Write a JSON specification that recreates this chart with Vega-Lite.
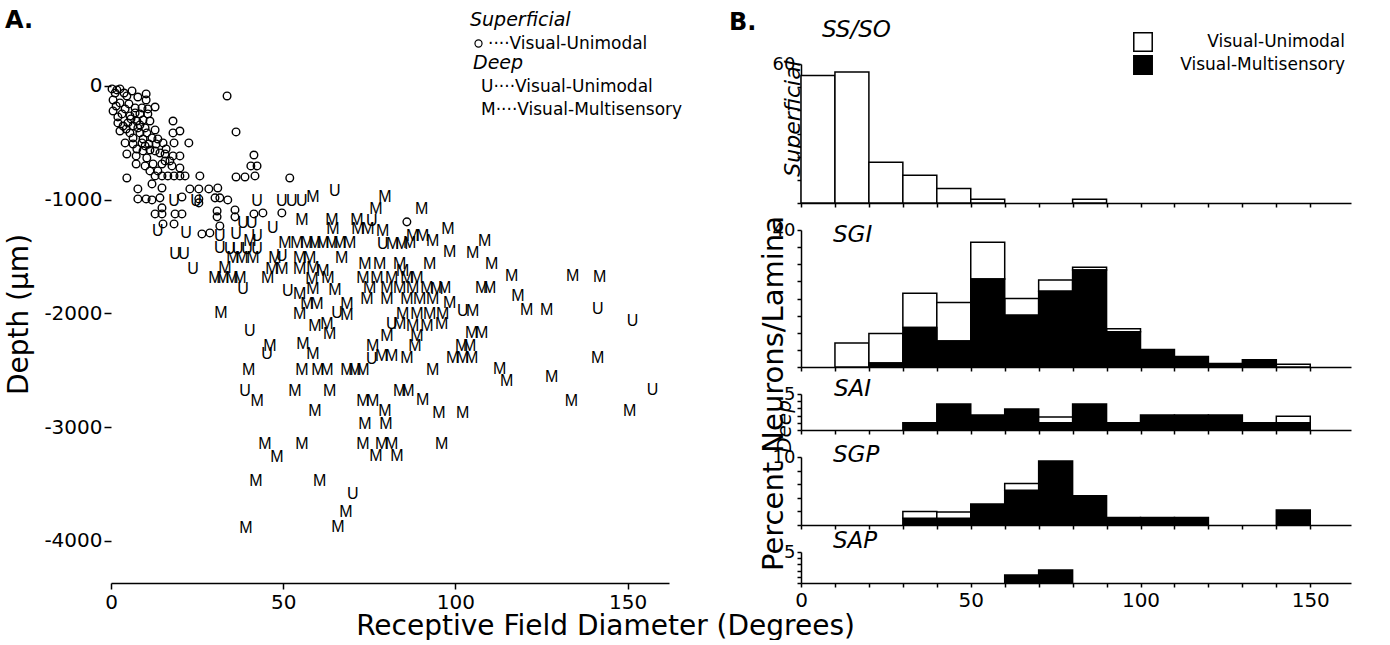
{
 "$schema": "https://vega.github.io/schema/vega-lite/v6.json",
 "background": "white",
 "padding": {"left": 5, "top": 9, "right": 5, "bottom": 0},
 "title": {"text": "A.", "anchor": "start", "frame": "bounds", "fontSize": 24, "fontWeight": "bold", "font": "DejaVu Sans", "offset": -22},
 "spacing": 132,
 "bounds": "flush",
 "resolve": {"scale": {"color": "independent"}, "legend": {"color": "independent"}},
 "datasets": {
  "scatter": [
   {"rf":1.2,"depth":-62,"cls":"o"},{"rf":1.7,"depth":-35,"cls":"o"},{"rf":4.6,"depth":-88,"cls":"o"},{"rf":7.8,"depth":-97,"cls":"o"},{"rf":10.2,"depth":-70,"cls":"o"},{"rf":10.2,"depth":-123,"cls":"o"},{"rf":12.8,"depth":-185,"cls":"o"},
   {"rf":0.6,"depth":-123,"cls":"o"},{"rf":2.6,"depth":-149,"cls":"o"},{"rf":5.2,"depth":-158,"cls":"o"},{"rf":7.0,"depth":-193,"cls":"o"},{"rf":9.0,"depth":-193,"cls":"o"},{"rf":10.7,"depth":-202,"cls":"o"},
   {"rf":0.6,"depth":-220,"cls":"o"},{"rf":3.2,"depth":-246,"cls":"o"},{"rf":5.5,"depth":-264,"cls":"o"},{"rf":8.4,"depth":-246,"cls":"o"},{"rf":10.7,"depth":-246,"cls":"o"},
   {"rf":2.0,"depth":-325,"cls":"o"},{"rf":4.9,"depth":-325,"cls":"o"},{"rf":7.5,"depth":-308,"cls":"o"},{"rf":9.3,"depth":-299,"cls":"o"},{"rf":11.3,"depth":-308,"cls":"o"},{"rf":4.4,"depth":-378,"cls":"o"},{"rf":7.8,"depth":-369,"cls":"o"},{"rf":9.9,"depth":-369,"cls":"o"},{"rf":18.0,"depth":-308,"cls":"o"},
   {"rf":2.6,"depth":-396,"cls":"o"},{"rf":5.5,"depth":-413,"cls":"o"},{"rf":8.4,"depth":-413,"cls":"o"},{"rf":10.4,"depth":-413,"cls":"o"},{"rf":12.8,"depth":-387,"cls":"o"},{"rf":18.0,"depth":-413,"cls":"o"},{"rf":20.0,"depth":-396,"cls":"o"},{"rf":6.4,"depth":-457,"cls":"o"},{"rf":9.3,"depth":-466,"cls":"o"},{"rf":11.9,"depth":-457,"cls":"o"},
   {"rf":4.1,"depth":-501,"cls":"o"},{"rf":6.4,"depth":-510,"cls":"o"},{"rf":9.0,"depth":-501,"cls":"o"},{"rf":11.0,"depth":-510,"cls":"o"},{"rf":13.1,"depth":-510,"cls":"o"},{"rf":15.1,"depth":-501,"cls":"o"},{"rf":18.3,"depth":-501,"cls":"o"},{"rf":22.6,"depth":-501,"cls":"o"},{"rf":7.5,"depth":-554,"cls":"o"},
   {"rf":4.6,"depth":-598,"cls":"o"},{"rf":7.3,"depth":-615,"cls":"o"},{"rf":9.3,"depth":-571,"cls":"o"},{"rf":11.3,"depth":-563,"cls":"o"},{"rf":14.2,"depth":-589,"cls":"o"},{"rf":15.7,"depth":-598,"cls":"o"},{"rf":18.0,"depth":-615,"cls":"o"},{"rf":20.0,"depth":-615,"cls":"o"},{"rf":10.4,"depth":-633,"cls":"o"},
   {"rf":7.3,"depth":-686,"cls":"o"},{"rf":9.9,"depth":-703,"cls":"o"},{"rf":12.2,"depth":-686,"cls":"o"},{"rf":14.8,"depth":-686,"cls":"o"},{"rf":17.7,"depth":-703,"cls":"o"},{"rf":20.0,"depth":-721,"cls":"o"},{"rf":15.7,"depth":-659,"cls":"o"},
   {"rf":0.3,"depth":-26,"cls":"o"},{"rf":2.6,"depth":-26,"cls":"o"},{"rf":3.8,"depth":-62,"cls":"o"},{"rf":6.1,"depth":-44,"cls":"o"},{"rf":1.5,"depth":-176,"cls":"o"},{"rf":4.1,"depth":-202,"cls":"o"},{"rf":2.0,"depth":-272,"cls":"o"},{"rf":7.0,"depth":-237,"cls":"o"},{"rf":3.5,"depth":-352,"cls":"o"},{"rf":6.4,"depth":-352,"cls":"o"},{"rf":8.4,"depth":-343,"cls":"o"},{"rf":5.8,"depth":-290,"cls":"o"},{"rf":9.9,"depth":-527,"cls":"o"},{"rf":12.8,"depth":-571,"cls":"o"},{"rf":13.6,"depth":-466,"cls":"o"},{"rf":16.0,"depth":-554,"cls":"o"},{"rf":17.1,"depth":-659,"cls":"o"},{"rf":11.3,"depth":-747,"cls":"o"},{"rf":13.6,"depth":-747,"cls":"o"},
   {"rf":4.6,"depth":-809,"cls":"o"},{"rf":12.8,"depth":-791,"cls":"o"},{"rf":14.8,"depth":-791,"cls":"o"},{"rf":16.5,"depth":-791,"cls":"o"},{"rf":18.3,"depth":-791,"cls":"o"},{"rf":20.0,"depth":-791,"cls":"o"},{"rf":21.5,"depth":-791,"cls":"o"},{"rf":25.8,"depth":-791,"cls":"o"},{"rf":36.3,"depth":-800,"cls":"o"},{"rf":38.9,"depth":-800,"cls":"o"},{"rf":41.8,"depth":-791,"cls":"o"},{"rf":51.9,"depth":-809,"cls":"o"},{"rf":40.6,"depth":-703,"cls":"o"},{"rf":42.4,"depth":-703,"cls":"o"},{"rf":41.5,"depth":-607,"cls":"o"},{"rf":36.3,"depth":-404,"cls":"o"},{"rf":33.7,"depth":-88,"cls":"o"},
   {"rf":11.9,"depth":-861,"cls":"o"},{"rf":14.8,"depth":-897,"cls":"o"},{"rf":7.8,"depth":-905,"cls":"o"},{"rf":22.9,"depth":-905,"cls":"o"},{"rf":25.5,"depth":-905,"cls":"o"},{"rf":28.4,"depth":-905,"cls":"o"},{"rf":31.0,"depth":-897,"cls":"o"},
   {"rf":7.8,"depth":-993,"cls":"o"},{"rf":10.2,"depth":-993,"cls":"o"},{"rf":11.9,"depth":-1002,"cls":"o"},{"rf":14.2,"depth":-984,"cls":"o"},{"rf":20.6,"depth":-976,"cls":"o"},{"rf":25.5,"depth":-993,"cls":"o"},{"rf":25.5,"depth":-1028,"cls":"o"},{"rf":30.2,"depth":-984,"cls":"o"},{"rf":31.6,"depth":-984,"cls":"o"},{"rf":33.9,"depth":-1002,"cls":"o"},
   {"rf":12.8,"depth":-1125,"cls":"o"},{"rf":14.8,"depth":-1072,"cls":"o"},{"rf":14.8,"depth":-1125,"cls":"o"},{"rf":18.6,"depth":-1125,"cls":"o"},{"rf":20.6,"depth":-1125,"cls":"o"},{"rf":30.8,"depth":-1099,"cls":"o"},{"rf":30.8,"depth":-1151,"cls":"o"},{"rf":36.0,"depth":-1090,"cls":"o"},{"rf":36.0,"depth":-1151,"cls":"o"},{"rf":41.5,"depth":-1125,"cls":"o"},{"rf":44.1,"depth":-1116,"cls":"o"},{"rf":49.6,"depth":-1116,"cls":"o"},
   {"rf":15.1,"depth":-1213,"cls":"o"},{"rf":18.3,"depth":-1213,"cls":"o"},{"rf":31.6,"depth":-1231,"cls":"o"},{"rf":28.7,"depth":-1292,"cls":"o"},{"rf":26.4,"depth":-1301,"cls":"o"},{"rf":85.9,"depth":-1195,"cls":"o"},
   {"rf":18.3,"depth":-1011,"cls":"U"},{"rf":24.7,"depth":-1011,"cls":"U"},{"rf":42.4,"depth":-1011,"cls":"U"},{"rf":49.6,"depth":-1011,"cls":"U"},{"rf":52.5,"depth":-1011,"cls":"U"},{"rf":55.4,"depth":-1011,"cls":"U"},{"rf":65.0,"depth":-923,"cls":"U"},{"rf":38.3,"depth":-1204,"cls":"U"},{"rf":40.9,"depth":-1204,"cls":"U"},{"rf":75.7,"depth":-1187,"cls":"U"},{"rf":47.0,"depth":-1248,"cls":"U"},{"rf":31.6,"depth":-1319,"cls":"U"},{"rf":36.3,"depth":-1301,"cls":"U"},{"rf":42.4,"depth":-1319,"cls":"U"},{"rf":78.9,"depth":-1389,"cls":"U"},{"rf":31.6,"depth":-1424,"cls":"U"},{"rf":34.5,"depth":-1433,"cls":"U"},{"rf":36.8,"depth":-1433,"cls":"U"},{"rf":39.5,"depth":-1433,"cls":"U"},{"rf":42.4,"depth":-1433,"cls":"U"},{"rf":49.6,"depth":-1494,"cls":"U"},{"rf":38.3,"depth":-1784,"cls":"U"},{"rf":51.3,"depth":-1802,"cls":"U"},{"rf":102.1,"depth":-1978,"cls":"U"},{"rf":65.6,"depth":-1995,"cls":"U"},{"rf":40.3,"depth":-2154,"cls":"U"},{"rf":81.5,"depth":-2092,"cls":"U"},{"rf":45.3,"depth":-2356,"cls":"U"},{"rf":75.7,"depth":-2400,"cls":"U"},{"rf":38.9,"depth":-2681,"cls":"U"},{"rf":70.2,"depth":-3586,"cls":"U"},{"rf":13.6,"depth":-1275,"cls":"U"},{"rf":21.8,"depth":-1292,"cls":"U"},{"rf":18.6,"depth":-1477,"cls":"U"},{"rf":21.2,"depth":-1477,"cls":"U"},{"rf":23.8,"depth":-1609,"cls":"U"},{"rf":141.3,"depth":-1960,"cls":"U"},{"rf":151.4,"depth":-2066,"cls":"U"},{"rf":157.2,"depth":-2672,"cls":"U"},
   {"rf":58.6,"depth":-976,"cls":"M"},{"rf":79.5,"depth":-976,"cls":"M"},{"rf":76.9,"depth":-1081,"cls":"M"},{"rf":90.2,"depth":-1081,"cls":"M"},{"rf":55.4,"depth":-1178,"cls":"M"},{"rf":64.1,"depth":-1178,"cls":"M"},{"rf":71.4,"depth":-1178,"cls":"M"},{"rf":64.4,"depth":-1257,"cls":"M"},{"rf":71.7,"depth":-1257,"cls":"M"},{"rf":74.6,"depth":-1257,"cls":"M"},{"rf":78.9,"depth":-1275,"cls":"M"},{"rf":97.8,"depth":-1257,"cls":"M"},{"rf":87.6,"depth":-1319,"cls":"M"},{"rf":90.5,"depth":-1319,"cls":"M"},{"rf":93.4,"depth":-1362,"cls":"M"},{"rf":108.5,"depth":-1362,"cls":"M"},{"rf":40.3,"depth":-1362,"cls":"M"},
   {"rf":50.5,"depth":-1380,"cls":"M"},{"rf":54.0,"depth":-1380,"cls":"M"},{"rf":56.9,"depth":-1380,"cls":"M"},{"rf":59.2,"depth":-1380,"cls":"M"},{"rf":61.5,"depth":-1380,"cls":"M"},{"rf":64.1,"depth":-1380,"cls":"M"},{"rf":66.4,"depth":-1380,"cls":"M"},{"rf":69.3,"depth":-1380,"cls":"M"},
   {"rf":81.8,"depth":-1389,"cls":"M"},{"rf":84.4,"depth":-1389,"cls":"M"},{"rf":86.7,"depth":-1380,"cls":"M"},{"rf":98.3,"depth":-1459,"cls":"M"},{"rf":105.0,"depth":-1468,"cls":"M"},
   {"rf":35.4,"depth":-1512,"cls":"M"},{"rf":38.0,"depth":-1512,"cls":"M"},{"rf":41.2,"depth":-1512,"cls":"M"},{"rf":47.6,"depth":-1512,"cls":"M"},{"rf":54.8,"depth":-1512,"cls":"M"},{"rf":57.7,"depth":-1512,"cls":"M"},{"rf":67.0,"depth":-1512,"cls":"M"},{"rf":110.5,"depth":-1565,"cls":"M"},
   {"rf":33.1,"depth":-1600,"cls":"M"},{"rf":46.7,"depth":-1609,"cls":"M"},{"rf":49.6,"depth":-1609,"cls":"M"},{"rf":54.8,"depth":-1609,"cls":"M"},{"rf":58.6,"depth":-1600,"cls":"M"},{"rf":61.5,"depth":-1626,"cls":"M"},{"rf":73.7,"depth":-1565,"cls":"M"},{"rf":78.0,"depth":-1565,"cls":"M"},{"rf":83.8,"depth":-1565,"cls":"M"},{"rf":92.5,"depth":-1565,"cls":"M"},{"rf":84.7,"depth":-1626,"cls":"M"},
   {"rf":30.2,"depth":-1688,"cls":"M"},{"rf":32.5,"depth":-1688,"cls":"M"},{"rf":35.1,"depth":-1688,"cls":"M"},{"rf":37.4,"depth":-1688,"cls":"M"},{"rf":45.5,"depth":-1688,"cls":"M"},{"rf":58.3,"depth":-1696,"cls":"M"},{"rf":63.0,"depth":-1688,"cls":"M"},{"rf":73.1,"depth":-1688,"cls":"M"},{"rf":77.2,"depth":-1688,"cls":"M"},{"rf":81.5,"depth":-1688,"cls":"M"},{"rf":85.9,"depth":-1688,"cls":"M"},{"rf":88.8,"depth":-1688,"cls":"M"},{"rf":116.3,"depth":-1670,"cls":"M"},
   {"rf":54.8,"depth":-1828,"cls":"M"},{"rf":58.6,"depth":-1784,"cls":"M"},{"rf":65.0,"depth":-1793,"cls":"M"},{"rf":75.1,"depth":-1776,"cls":"M"},{"rf":80.1,"depth":-1776,"cls":"M"},{"rf":83.8,"depth":-1776,"cls":"M"},{"rf":87.6,"depth":-1776,"cls":"M"},{"rf":91.7,"depth":-1776,"cls":"M"},{"rf":94.6,"depth":-1784,"cls":"M"},{"rf":96.9,"depth":-1776,"cls":"M"},{"rf":107.6,"depth":-1776,"cls":"M"},{"rf":109.9,"depth":-1776,"cls":"M"},{"rf":118.1,"depth":-1846,"cls":"M"},
   {"rf":56.9,"depth":-1916,"cls":"M"},{"rf":59.8,"depth":-1916,"cls":"M"},{"rf":68.5,"depth":-1916,"cls":"M"},{"rf":74.3,"depth":-1872,"cls":"M"},{"rf":80.1,"depth":-1872,"cls":"M"},{"rf":85.9,"depth":-1872,"cls":"M"},{"rf":89.6,"depth":-1872,"cls":"M"},{"rf":93.4,"depth":-1872,"cls":"M"},{"rf":98.3,"depth":-1907,"cls":"M"},{"rf":105.0,"depth":-1978,"cls":"M"},{"rf":31.9,"depth":-1995,"cls":"M"},
   {"rf":54.8,"depth":-2004,"cls":"M"},{"rf":68.5,"depth":-2013,"cls":"M"},{"rf":84.7,"depth":-2004,"cls":"M"},{"rf":88.8,"depth":-2004,"cls":"M"},{"rf":92.5,"depth":-2004,"cls":"M"},{"rf":96.3,"depth":-2004,"cls":"M"},
   {"rf":59.2,"depth":-2110,"cls":"M"},{"rf":62.7,"depth":-2092,"cls":"M"},{"rf":83.8,"depth":-2092,"cls":"M"},{"rf":87.6,"depth":-2110,"cls":"M"},{"rf":91.7,"depth":-2110,"cls":"M"},{"rf":96.0,"depth":-2092,"cls":"M"},{"rf":104.7,"depth":-2171,"cls":"M"},{"rf":107.6,"depth":-2171,"cls":"M"},
   {"rf":63.5,"depth":-2180,"cls":"M"},{"rf":80.1,"depth":-2198,"cls":"M"},{"rf":88.8,"depth":-2198,"cls":"M"},
   {"rf":46.1,"depth":-2285,"cls":"M"},{"rf":55.7,"depth":-2268,"cls":"M"},{"rf":58.6,"depth":-2356,"cls":"M"},{"rf":76.0,"depth":-2285,"cls":"M"},{"rf":78.6,"depth":-2373,"cls":"M"},{"rf":81.5,"depth":-2373,"cls":"M"},{"rf":85.9,"depth":-2391,"cls":"M"},{"rf":88.2,"depth":-2285,"cls":"M"},{"rf":101.8,"depth":-2285,"cls":"M"},{"rf":104.1,"depth":-2285,"cls":"M"},{"rf":99.2,"depth":-2391,"cls":"M"},{"rf":102.1,"depth":-2391,"cls":"M"},{"rf":104.7,"depth":-2391,"cls":"M"},
   {"rf":40.0,"depth":-2496,"cls":"M"},{"rf":55.4,"depth":-2496,"cls":"M"},{"rf":60.1,"depth":-2496,"cls":"M"},{"rf":62.7,"depth":-2496,"cls":"M"},{"rf":68.5,"depth":-2496,"cls":"M"},{"rf":70.8,"depth":-2496,"cls":"M"},{"rf":73.1,"depth":-2496,"cls":"M"},{"rf":93.4,"depth":-2496,"cls":"M"},{"rf":112.8,"depth":-2488,"cls":"M"},{"rf":114.9,"depth":-2593,"cls":"M"},
   {"rf":42.4,"depth":-2769,"cls":"M"},{"rf":53.4,"depth":-2681,"cls":"M"},{"rf":63.5,"depth":-2681,"cls":"M"},{"rf":73.1,"depth":-2769,"cls":"M"},{"rf":76.0,"depth":-2769,"cls":"M"},{"rf":79.5,"depth":-2857,"cls":"M"},{"rf":83.8,"depth":-2681,"cls":"M"},{"rf":86.2,"depth":-2681,"cls":"M"},{"rf":90.5,"depth":-2760,"cls":"M"},{"rf":95.2,"depth":-2874,"cls":"M"},{"rf":102.1,"depth":-2874,"cls":"M"},{"rf":59.2,"depth":-2857,"cls":"M"},
   {"rf":73.7,"depth":-2971,"cls":"M"},{"rf":79.8,"depth":-2971,"cls":"M"},
   {"rf":44.7,"depth":-3147,"cls":"M"},{"rf":48.2,"depth":-3261,"cls":"M"},{"rf":55.4,"depth":-3147,"cls":"M"},{"rf":73.1,"depth":-3147,"cls":"M"},{"rf":78.6,"depth":-3147,"cls":"M"},{"rf":81.5,"depth":-3147,"cls":"M"},{"rf":76.9,"depth":-3252,"cls":"M"},{"rf":83.0,"depth":-3252,"cls":"M"},{"rf":96.0,"depth":-3147,"cls":"M"},
   {"rf":42.1,"depth":-3472,"cls":"M"},{"rf":60.6,"depth":-3472,"cls":"M"},{"rf":68.2,"depth":-3745,"cls":"M"},{"rf":39.2,"depth":-3885,"cls":"M"},{"rf":65.9,"depth":-3876,"cls":"M"},
   {"rf":134.0,"depth":-1670,"cls":"M"},{"rf":141.9,"depth":-1679,"cls":"M"},{"rf":120.7,"depth":-1969,"cls":"M"},{"rf":126.5,"depth":-1969,"cls":"M"},{"rf":127.9,"depth":-2558,"cls":"M"},{"rf":141.3,"depth":-2391,"cls":"M"},{"rf":133.7,"depth":-2769,"cls":"M"},{"rf":150.6,"depth":-2857,"cls":"M"}
  ],
  "hist": [
   {"lamina":"SS/SO","lo":0,"hi":10,"cls":"Visual-Unimodal","pct":55},
   {"lamina":"SS/SO","lo":10,"hi":20,"cls":"Visual-Unimodal","pct":56.5},
   {"lamina":"SS/SO","lo":20,"hi":30,"cls":"Visual-Unimodal","pct":17.6},
   {"lamina":"SS/SO","lo":30,"hi":40,"cls":"Visual-Unimodal","pct":12},
   {"lamina":"SS/SO","lo":40,"hi":50,"cls":"Visual-Unimodal","pct":6.3},
   {"lamina":"SS/SO","lo":50,"hi":60,"cls":"Visual-Unimodal","pct":1.6},
   {"lamina":"SS/SO","lo":80,"hi":90,"cls":"Visual-Unimodal","pct":1.6},
   {"lamina":"SGI","lo":10,"hi":20,"cls":"Visual-Unimodal","pct":7.0},
   {"lamina":"SGI","lo":20,"hi":30,"cls":"Visual-Unimodal","pct":8.6},
   {"lamina":"SGI","lo":30,"hi":40,"cls":"Visual-Unimodal","pct":10.0},
   {"lamina":"SGI","lo":40,"hi":50,"cls":"Visual-Unimodal","pct":11.2},
   {"lamina":"SGI","lo":50,"hi":60,"cls":"Visual-Unimodal","pct":10.7},
   {"lamina":"SGI","lo":60,"hi":70,"cls":"Visual-Unimodal","pct":4.9},
   {"lamina":"SGI","lo":70,"hi":80,"cls":"Visual-Unimodal","pct":3.3},
   {"lamina":"SGI","lo":80,"hi":90,"cls":"Visual-Unimodal","pct":0.8},
   {"lamina":"SGI","lo":90,"hi":100,"cls":"Visual-Unimodal","pct":0.9},
   {"lamina":"SGI","lo":140,"hi":150,"cls":"Visual-Unimodal","pct":0.8},
   {"lamina":"SGI","lo":20,"hi":30,"cls":"Visual-Multisensory","pct":1.2},
   {"lamina":"SGI","lo":30,"hi":40,"cls":"Visual-Multisensory","pct":11.5},
   {"lamina":"SGI","lo":40,"hi":50,"cls":"Visual-Multisensory","pct":7.6},
   {"lamina":"SGI","lo":50,"hi":60,"cls":"Visual-Multisensory","pct":25.7},
   {"lamina":"SGI","lo":60,"hi":70,"cls":"Visual-Multisensory","pct":15.1},
   {"lamina":"SGI","lo":70,"hi":80,"cls":"Visual-Multisensory","pct":22.1},
   {"lamina":"SGI","lo":80,"hi":90,"cls":"Visual-Multisensory","pct":28.3},
   {"lamina":"SGI","lo":90,"hi":100,"cls":"Visual-Multisensory","pct":10.3},
   {"lamina":"SGI","lo":100,"hi":110,"cls":"Visual-Multisensory","pct":5.1},
   {"lamina":"SGI","lo":110,"hi":120,"cls":"Visual-Multisensory","pct":3.1},
   {"lamina":"SGI","lo":120,"hi":130,"cls":"Visual-Multisensory","pct":1.0},
   {"lamina":"SGI","lo":130,"hi":140,"cls":"Visual-Multisensory","pct":2.1},
   {"lamina":"SAI","lo":30,"hi":40,"cls":"Visual-Multisensory","pct":1.0},
   {"lamina":"SAI","lo":40,"hi":50,"cls":"Visual-Multisensory","pct":3.6},
   {"lamina":"SAI","lo":50,"hi":60,"cls":"Visual-Multisensory","pct":2.1},
   {"lamina":"SAI","lo":60,"hi":70,"cls":"Visual-Multisensory","pct":2.9},
   {"lamina":"SAI","lo":70,"hi":80,"cls":"Visual-Multisensory","pct":1.0},
   {"lamina":"SAI","lo":80,"hi":90,"cls":"Visual-Multisensory","pct":3.6},
   {"lamina":"SAI","lo":90,"hi":100,"cls":"Visual-Multisensory","pct":1.0},
   {"lamina":"SAI","lo":100,"hi":110,"cls":"Visual-Multisensory","pct":2.1},
   {"lamina":"SAI","lo":110,"hi":120,"cls":"Visual-Multisensory","pct":2.1},
   {"lamina":"SAI","lo":120,"hi":130,"cls":"Visual-Multisensory","pct":2.1},
   {"lamina":"SAI","lo":130,"hi":140,"cls":"Visual-Multisensory","pct":1.0},
   {"lamina":"SAI","lo":140,"hi":150,"cls":"Visual-Multisensory","pct":1.0},
   {"lamina":"SAI","lo":70,"hi":80,"cls":"Visual-Unimodal","pct":0.8},
   {"lamina":"SAI","lo":140,"hi":150,"cls":"Visual-Unimodal","pct":0.9},
   {"lamina":"SGP","lo":30,"hi":40,"cls":"Visual-Multisensory","pct":1.0},
   {"lamina":"SGP","lo":40,"hi":50,"cls":"Visual-Multisensory","pct":1.0},
   {"lamina":"SGP","lo":50,"hi":60,"cls":"Visual-Multisensory","pct":3.1},
   {"lamina":"SGP","lo":60,"hi":70,"cls":"Visual-Multisensory","pct":5.1},
   {"lamina":"SGP","lo":70,"hi":80,"cls":"Visual-Multisensory","pct":9.4},
   {"lamina":"SGP","lo":80,"hi":90,"cls":"Visual-Multisensory","pct":4.3},
   {"lamina":"SGP","lo":90,"hi":100,"cls":"Visual-Multisensory","pct":1.1},
   {"lamina":"SGP","lo":100,"hi":110,"cls":"Visual-Multisensory","pct":1.1},
   {"lamina":"SGP","lo":110,"hi":120,"cls":"Visual-Multisensory","pct":1.1},
   {"lamina":"SGP","lo":140,"hi":150,"cls":"Visual-Multisensory","pct":2.2},
   {"lamina":"SGP","lo":30,"hi":40,"cls":"Visual-Unimodal","pct":1.0},
   {"lamina":"SGP","lo":40,"hi":50,"cls":"Visual-Unimodal","pct":0.9},
   {"lamina":"SGP","lo":60,"hi":70,"cls":"Visual-Unimodal","pct":1.0},
   {"lamina":"SAP","lo":60,"hi":70,"cls":"Visual-Multisensory","pct":1.3},
   {"lamina":"SAP","lo":70,"hi":80,"cls":"Visual-Multisensory","pct":2.1}
  ]
 },
 "hconcat": [
  {
   "width": 558,
   "height": 519,
   "layer": [
    {
     "data": {"name": "scatter"},
     "transform": [{"filter": "datum.cls === 'o'"}],
     "mark": {"type": "point", "shape": "circle", "filled": false, "stroke": "black", "strokeWidth": 1.4, "size": 58, "opacity": 1},
     "encoding": {
      "x": {"field": "rf", "type": "quantitative", "scale": {"domain": [0, 162], "nice": false, "zero": false},
            "axis": {"values": [0, 50, 100, 150], "title": "Receptive Field Diameter (Degrees)", "titleX": 494, "titleY": 43, "titleBaseline": "middle", "titleAlign": "center", "titleFontSize": 28, "labelFontSize": 20, "tickSize": 6, "labelPadding": 3, "labelFlush": false}},
      "y": {"field": "depth", "type": "quantitative", "scale": {"domain": [-4370, 193], "nice": false, "zero": false},
            "axis": {"values": [0, -1000, -2000, -3000, -4000], "labelExpr": "datum.value === 0 ? '0' : '-' + format(-datum.value, 'd')", "title": "Depth (µm)", "titleX": -92, "titleY": 250, "titleBaseline": "middle", "titleAlign": "center", "titleAngle": -90, "titleFontSize": 28, "labelFontSize": 20, "tickSize": 7, "labelPadding": 2, "domain": false}},
      "shape": {"field": "cls", "type": "nominal", "scale": {"domain": ["o"], "range": ["circle"]},
                "legend": {"title": "Superficial", "orient": "none", "legendX": 359, "legendY": -53, "titleFontStyle": "italic", "titleFontWeight": "normal", "titleFontSize": 19, "labelFontSize": 17, "labelLimit": 400, "labelExpr": "'····Visual-Unimodal'", "symbolStrokeColor": "black", "symbolFillColor": "transparent", "symbolSize": 50, "symbolStrokeWidth": 1.2, "labelOffset": 1, "titlePadding": 5}}
     }
    },
    {
     "data": {"name": "scatter"},
     "transform": [{"filter": "datum.cls !== 'o'"}],
     "mark": {"type": "text", "font": "Liberation Sans", "fontSize": 16, "baseline": "middle", "align": "center"},
     "encoding": {
      "x": {"field": "rf", "type": "quantitative"},
      "y": {"field": "depth", "type": "quantitative"},
      "text": {"field": "cls"},
      "color": {"field": "cls", "type": "nominal", "scale": {"domain": ["U", "M"], "range": ["black", "black"]},
                "legend": {"title": "Deep", "orient": "none", "legendX": 362, "legendY": -10, "titleFontStyle": "italic", "titleFontWeight": "normal", "titleFontSize": 19, "labelFontSize": 17, "labelLimit": 400, "labelExpr": "datum.label === 'U' ? 'U····Visual-Unimodal' : 'M····Visual-Multisensory'", "symbolSize": 0, "symbolOpacity": 0, "symbolStrokeWidth": 0, "labelOffset": -9, "rowPadding": 5, "titlePadding": 5}}
     }
    },
    {
     "mark": {"type": "rule", "stroke": "black", "strokeWidth": 1.5},
     "encoding": {"x": {"datum": 0, "type": "quantitative"}, "y": {"datum": 50, "type": "quantitative"}, "y2": {"datum": -4370}}
    }
   ]
  },
  {
   "title": {"text": "B.", "anchor": "start", "frame": "bounds", "fontSize": 24, "fontWeight": "bold", "font": "DejaVu Sans", "dx": -30, "offset": -16},
   "spacing": 27,
   "bounds": "flush",
   "resolve": {"legend": {"color": "independent"}},
   "vconcat": [
    {
     "width": 550, "height": 139,
     "title": {"text": "SS/SO", "anchor": "start", "frame": "group", "fontStyle": "italic", "fontWeight": "normal", "fontSize": 23, "dx": 21, "offset": -10},
     "data": {"name": "hist"},
     "transform": [{"filter": "datum.lamina === 'SS/SO'"}, {"stack": "pct", "groupby": ["lo"], "sort": [{"field": "cls", "order": "ascending"}], "as": ["p0", "p1"]}],
     "mark": {"type": "bar", "stroke": "black", "strokeWidth": 1.5},
     "encoding": {
      "x": {"field": "lo", "type": "quantitative", "scale": {"domain": [0, 162], "nice": false, "zero": false}, "axis": {"values": [0,10,20,30,40,50,60,70,80,90,100,110,120,130,140,150], "labels": false, "title": null, "tickSize": 4}},
      "x2": {"field": "hi"},
      "y": {"field": "p1", "type": "quantitative", "scale": {"domain": [0, 60], "nice": false}, "axis": {"values": [0,10,20,30,40,50,60], "labelExpr": "datum.value === 60 ? '60' : ''", "labelFontSize": 18, "tickSize": 4, "labelPadding": 2, "title": "Superficial", "titleFontStyle": "italic", "titleFontSize": 22, "titleX": -9, "titleY": 54, "titleBaseline": "middle", "titleAlign": "center"}},
      "y2": {"field": "p0"},
      "color": {"field": "cls", "type": "nominal", "scale": {"domain": ["Visual-Unimodal", "Visual-Multisensory"], "range": ["white", "black"]},
                "legend": {"title": null, "orient": "none", "legendX": 332, "legendY": -32, "symbolType": "square", "symbolSize": 340, "symbolStrokeColor": "black", "symbolStrokeWidth": 1.5, "labelFontSize": 17, "labelLimit": 400, "labelAlign": "right", "labelOffset": 192, "rowPadding": -4}}
     }
    },
    {
     "width": 550, "height": 137,
     "title": {"text": "SGI", "anchor": "start", "frame": "group", "fontStyle": "italic", "fontWeight": "normal", "fontSize": 23, "dx": 32, "offset": -31},
     "data": {"name": "hist"},
     "transform": [{"filter": "datum.lamina === 'SGI'"}, {"stack": "pct", "groupby": ["lo"], "sort": [{"field": "cls", "order": "ascending"}], "as": ["p0", "p1"]}],
     "mark": {"type": "bar", "stroke": "black", "strokeWidth": 1.5},
     "encoding": {
      "x": {"field": "lo", "type": "quantitative", "scale": {"domain": [0, 162], "nice": false, "zero": false}, "axis": {"values": [0,10,20,30,40,50,60,70,80,90,100,110,120,130,140,150], "labels": false, "title": null, "tickSize": 4}},
      "x2": {"field": "hi"},
      "y": {"field": "p1", "type": "quantitative", "scale": {"domain": [0, 40], "nice": false}, "axis": {"values": [0,5,10,15,20,25,30,35,40], "labelExpr": "datum.value === 40 ? '40' : ''", "labelFontSize": 18, "tickSize": 4, "labelPadding": 2, "title": "Percent Neurons/Lamina", "titleFontSize": 29, "titleX": -28, "titleY": 163, "titleBaseline": "middle", "titleAlign": "center"}},
      "y2": {"field": "p0"},
      "color": {"field": "cls", "type": "nominal", "scale": {"domain": ["Visual-Unimodal", "Visual-Multisensory"], "range": ["white", "black"]}, "legend": null}
     }
    },
    {
     "width": 550, "height": 36,
     "title": {"text": "SAI", "anchor": "start", "frame": "group", "fontStyle": "italic", "fontWeight": "normal", "fontSize": 23, "dx": 33, "offset": -16},
     "data": {"name": "hist"},
     "transform": [{"filter": "datum.lamina === 'SAI'"}, {"stack": "pct", "groupby": ["lo"], "sort": [{"field": "cls", "order": "ascending"}], "as": ["p0", "p1"]}],
     "mark": {"type": "bar", "stroke": "black", "strokeWidth": 1.5},
     "encoding": {
      "x": {"field": "lo", "type": "quantitative", "scale": {"domain": [0, 162], "nice": false, "zero": false}, "axis": {"values": [0,10,20,30,40,50,60,70,80,90,100,110,120,130,140,150], "labels": false, "title": null, "tickSize": 4}},
      "x2": {"field": "hi"},
      "y": {"field": "p1", "type": "quantitative", "scale": {"domain": [0, 5], "nice": false}, "axis": {"values": [0,1,2,3,4,5], "labelExpr": "datum.value === 5 ? '5' : ''", "labelFontSize": 18, "tickSize": 4, "labelPadding": 2, "title": "Deep", "titleFontStyle": "italic", "titleFontSize": 20, "titleX": -17, "titleY": 32, "titleBaseline": "middle", "titleAlign": "center"}},
      "y2": {"field": "p0"},
      "color": {"field": "cls", "type": "nominal", "scale": {"domain": ["Visual-Unimodal", "Visual-Multisensory"], "range": ["white", "black"]}, "legend": null}
     }
    },
    {
     "width": 550, "height": 68,
     "title": {"text": "SGP", "anchor": "start", "frame": "group", "fontStyle": "italic", "fontWeight": "normal", "fontSize": 23, "dx": 32, "offset": -19},
     "data": {"name": "hist"},
     "transform": [{"filter": "datum.lamina === 'SGP'"}, {"stack": "pct", "groupby": ["lo"], "sort": [{"field": "cls", "order": "ascending"}], "as": ["p0", "p1"]}],
     "mark": {"type": "bar", "stroke": "black", "strokeWidth": 1.5},
     "encoding": {
      "x": {"field": "lo", "type": "quantitative", "scale": {"domain": [0, 162], "nice": false, "zero": false}, "axis": {"values": [0,10,20,30,40,50,60,70,80,90,100,110,120,130,140,150], "labels": false, "title": null, "tickSize": 4}},
      "x2": {"field": "hi"},
      "y": {"field": "p1", "type": "quantitative", "scale": {"domain": [0, 10], "nice": false}, "axis": {"values": [0,2,4,6,8,10], "labelExpr": "datum.value === 10 ? '10' : ''", "labelFontSize": 18, "tickSize": 4, "labelPadding": 2, "title": null}},
      "y2": {"field": "p0"},
      "color": {"field": "cls", "type": "nominal", "scale": {"domain": ["Visual-Unimodal", "Visual-Multisensory"], "range": ["white", "black"]}, "legend": null}
     }
    },
    {
     "width": 550, "height": 31,
     "title": {"text": "SAP", "anchor": "start", "frame": "group", "fontStyle": "italic", "fontWeight": "normal", "fontSize": 23, "dx": 32, "offset": -10},
     "data": {"name": "hist"},
     "transform": [{"filter": "datum.lamina === 'SAP'"}, {"stack": "pct", "groupby": ["lo"], "sort": [{"field": "cls", "order": "ascending"}], "as": ["p0", "p1"]}],
     "mark": {"type": "bar", "stroke": "black", "strokeWidth": 1.5},
     "encoding": {
      "x": {"field": "lo", "type": "quantitative", "scale": {"domain": [0, 162], "nice": false, "zero": false}, "axis": {"values": [0,10,20,30,40,50,60,70,80,90,100,110,120,130,140,150], "labelExpr": "datum.value % 50 === 0 ? datum.label : ''", "labelFontSize": 20, "labelFlush": false, "labelOverlap": false, "labelPadding": 3, "title": null, "tickSize": 4}},
      "x2": {"field": "hi"},
      "y": {"field": "p1", "type": "quantitative", "scale": {"domain": [0, 5], "nice": false}, "axis": {"values": [0,1,2,3,4,5], "labelExpr": "datum.value === 5 ? '5' : ''", "labelFontSize": 18, "tickSize": 4, "labelPadding": 2, "title": null}},
      "y2": {"field": "p0"},
      "color": {"field": "cls", "type": "nominal", "scale": {"domain": ["Visual-Unimodal", "Visual-Multisensory"], "range": ["white", "black"]}, "legend": null}
     }
    }
   ]
  }
 ],
 "config": {
  "view": {"stroke": null},
  "font": "DejaVu Sans",
  "axis": {"grid": false, "domainColor": "black", "domainWidth": 1.5, "tickColor": "black", "tickWidth": 1.5, "labelColor": "black", "titleColor": "black", "titleFontWeight": "normal", "labelFont": "DejaVu Sans", "titleFont": "DejaVu Sans"},
  "legend": {"labelColor": "black", "titleColor": "black", "labelFont": "DejaVu Sans", "titleFont": "DejaVu Sans"},
  "title": {"color": "black"}
 }
}
